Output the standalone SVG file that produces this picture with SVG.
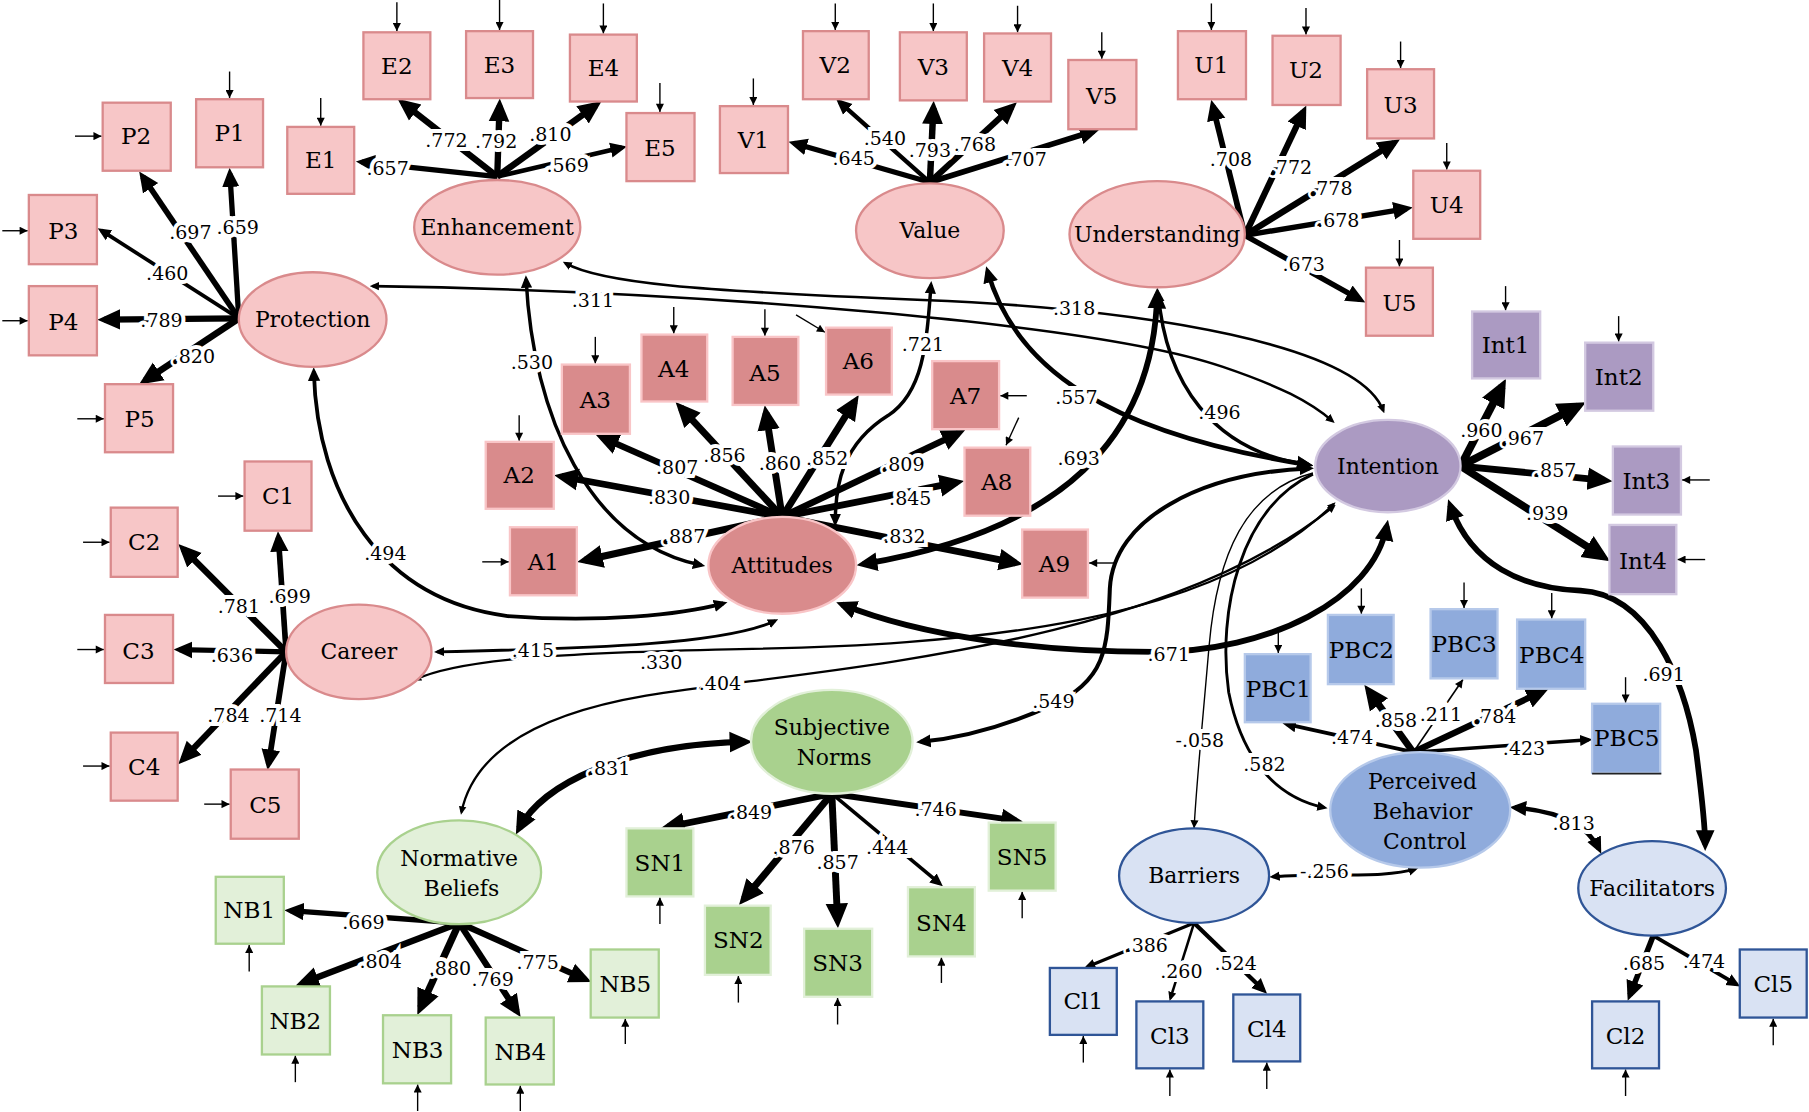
<svg xmlns="http://www.w3.org/2000/svg" width="1809" height="1112" viewBox="0 0 1809 1112">
<defs>
<marker id="ah" viewBox="0 0 10 10" refX="6.9" refY="5" markerWidth="3.6" markerHeight="3.6" orient="auto-start-reverse" markerUnits="strokeWidth"><path d="M0,0.5 L10,5 L0,9.5 z" fill="#000"/></marker>
<marker id="as" viewBox="0 0 10 10" refX="10" refY="5" markerWidth="8" markerHeight="7" orient="auto-start-reverse" markerUnits="userSpaceOnUse"><path d="M0,0 L10,5 L0,10 z" fill="#000"/></marker>
<style>
.pk{fill:#F7C6C7;stroke:#D98A8C;stroke-width:2}
.at{fill:#D98B8C;stroke:#F9C5C7;stroke-width:2}
.it{fill:#AB9AC2;stroke:#D3C9E1;stroke-width:2}
.pb{fill:#8FABDC;stroke:#B6C9EA;stroke-width:2}
.bl{fill:#D9E2F3;stroke:#2F5597;stroke-width:2}
.sn{fill:#A9D18E;stroke:#E2F0D9;stroke-width:2}
.nb{fill:#E2F0D9;stroke:#A9D18E;stroke-width:2}
.ld{fill:none;stroke:#000;marker-end:url(#ah)}
.db{fill:none;stroke:#000;marker-start:url(#ah);marker-end:url(#ah)}
.sg{fill:none;stroke:#000;marker-end:url(#ah)}
.th{fill:none;stroke:#000;marker-end:url(#as)}
.rs line{stroke:#000;stroke-width:1.2;marker-end:url(#as)}
text{font-family:'DejaVu Serif','Liberation Serif',serif;fill:#000;text-anchor:middle;dominant-baseline:central}
.n{font-size:19px}
.b{font-size:20px}
.l{font-size:16.5px;paint-order:stroke;stroke:#fff;stroke-width:7px;stroke-linejoin:miter}
</style>
</defs>
<rect width="1809" height="1112" fill="#fff"/>
<g transform="scale(1.1537)">
<g id="connectors">
<path class="db" stroke-width="2.2" d="M 323,248 C 600,252 950,280 1060,318 C 1110,335 1135,348 1155,365"/>
<path class="db" stroke-width="2.2" d="M 490,228 C 520,245 600,252 800,260 C 1000,268 1178,300 1199,356"/>
<path class="db" stroke-width="3" d="M 456,242 C 462,360 510,470 608,490"/>
<path class="db" stroke-width="3.3" d="M 272,322 C 275,430 330,520 440,534 C 520,540 590,533 627,523"/>
<path class="db" stroke-width="3" d="M 807,247 C 803,300 800,340 770,360 C 730,385 724,420 724,453"/>
<path class="db" stroke-width="4" d="M 856,235 C 880,320 960,375 1134,403"/>
<path class="db" stroke-width="5" d="M 1003,255 C 1000,380 920,460 748,489"/>
<path class="db" stroke-width="3" d="M 1004,254 C 1010,330 1050,392 1135,403"/>
<path class="db" stroke-width="2.5" d="M 379,565 C 520,562 630,558 672,538"/>
<path class="db" stroke-width="2" d="M 360,589 C 400,570 500,566 620,563 C 850,560 1050,540 1156,437"/>
<path class="db" stroke-width="2" d="M 400,704 C 410,655 460,620 560,603 C 700,580 1000,565 1156,439"/>
<path class="db" stroke-width="5" d="M 730,524 C 800,552 900,565 1000,565 C 1100,565 1190,520 1202,456"/>
<path class="db" stroke-width="3.5" d="M 1135,406 C 1040,410 965,450 962,510 C 960,560 960,590 910,612 C 870,630 830,640 798,643"/>
<path class="db" stroke-width="5.5" d="M 450,718 C 470,680 540,645 646,643"/>
<path class="th" stroke-width="1.2" d="M 1138,410 C 1080,425 1055,480 1048,560 C 1042,630 1037,680 1035,718"/>
<path class="sg" stroke-width="2.5" d="M 1138,411 C 1075,440 1055,530 1065,600 C 1075,650 1100,690 1148,700"/>
<path class="db" stroke-width="5" d="M 1257,438 C 1275,490 1320,510 1370,512 C 1430,515 1460,590 1470,650 C 1475,690 1478,712 1478,732"/>
<path class="db" stroke-width="4" d="M 1313,700 C 1350,703 1376,715 1386,736"/>
<path class="db" stroke-width="2.5" d="M 1103,760 C 1150,756 1200,762 1227,753"/>
<line class="ld" x1="431" y1="153" x2="313.6" y2="140.5" stroke-width="4.6"/>
<line class="ld" x1="431" y1="153" x2="349.3" y2="89.3" stroke-width="5.4"/>
<line class="ld" x1="431" y1="153" x2="433" y2="91.5" stroke-width="5.5"/>
<line class="ld" x1="431" y1="153" x2="516.4" y2="91.3" stroke-width="5.7"/>
<line class="ld" x1="431" y1="153" x2="539.1" y2="127.9" stroke-width="4"/>
<line class="ld" x1="207" y1="276" x2="199.3" y2="150.6" stroke-width="4.6"/>
<line class="ld" x1="207" y1="276" x2="123.7" y2="153.1" stroke-width="4.9"/>
<line class="ld" x1="207" y1="276" x2="87.7" y2="199.7" stroke-width="3.2"/>
<line class="ld" x1="207" y1="276" x2="90.5" y2="277" stroke-width="5.5"/>
<line class="ld" x1="207" y1="276" x2="125.8" y2="329.8" stroke-width="5.7"/>
<line class="ld" x1="806" y1="158" x2="688.3" y2="124.2" stroke-width="4.5"/>
<line class="ld" x1="806" y1="158" x2="727.8" y2="88.5" stroke-width="3.8"/>
<line class="ld" x1="806" y1="158" x2="809" y2="93.6" stroke-width="5.6"/>
<line class="ld" x1="806" y1="158" x2="877" y2="92.7" stroke-width="5.4"/>
<line class="ld" x1="806" y1="158" x2="948.3" y2="113.5" stroke-width="4.9"/>
<line class="ld" x1="1079" y1="204" x2="1051.2" y2="91.9" stroke-width="5"/>
<line class="ld" x1="1079" y1="204" x2="1129.7" y2="96.9" stroke-width="5.4"/>
<line class="ld" x1="1079" y1="204" x2="1208.4" y2="123.8" stroke-width="5.4"/>
<line class="ld" x1="1079" y1="204" x2="1219.4" y2="180.8" stroke-width="4.7"/>
<line class="ld" x1="1079" y1="204" x2="1178.9" y2="259.7" stroke-width="4.7"/>
<line class="ld" x1="1266" y1="404" x2="1301.9" y2="334.9" stroke-width="6.7"/>
<line class="ld" x1="1266" y1="404" x2="1367.9" y2="352.1" stroke-width="6.8"/>
<line class="ld" x1="1266" y1="404" x2="1391" y2="416.4" stroke-width="6"/>
<line class="ld" x1="1266" y1="404" x2="1389.4" y2="482.5" stroke-width="6.6"/>
<line class="ld" x1="678" y1="448" x2="507.1" y2="485.7" stroke-width="6.2"/>
<line class="ld" x1="678" y1="448" x2="486.7" y2="413" stroke-width="5.8"/>
<line class="ld" x1="678" y1="448" x2="522.1" y2="379.3" stroke-width="5.6"/>
<line class="ld" x1="678" y1="448" x2="590.1" y2="353.4" stroke-width="6"/>
<line class="ld" x1="678" y1="448" x2="663.9" y2="357.9" stroke-width="6"/>
<line class="ld" x1="678" y1="448" x2="740.8" y2="348.1" stroke-width="6"/>
<line class="ld" x1="678" y1="448" x2="830.9" y2="375.4" stroke-width="5.7"/>
<line class="ld" x1="678" y1="448" x2="829.2" y2="418.1" stroke-width="5.9"/>
<line class="ld" x1="678" y1="448" x2="880.3" y2="487.9" stroke-width="5.8"/>
<line class="ld" x1="248" y1="565" x2="241.3" y2="465.9" stroke-width="4.9"/>
<line class="ld" x1="248" y1="565" x2="158.9" y2="475.9" stroke-width="5.5"/>
<line class="ld" x1="248" y1="565" x2="155.5" y2="563.1" stroke-width="4.5"/>
<line class="ld" x1="248" y1="565" x2="158.8" y2="658" stroke-width="5.5"/>
<line class="ld" x1="248" y1="565" x2="232.8" y2="662.1" stroke-width="5"/>
<line class="ld" x1="721" y1="688" x2="578.8" y2="716.8" stroke-width="5.9"/>
<line class="ld" x1="721" y1="688" x2="644.9" y2="779.3" stroke-width="6.1"/>
<line class="ld" x1="721" y1="688" x2="726" y2="798" stroke-width="6"/>
<line class="ld" x1="721" y1="688" x2="814.6" y2="766" stroke-width="3.1"/>
<line class="ld" x1="721" y1="688" x2="880.9" y2="711.3" stroke-width="5.2"/>
<line class="ld" x1="398" y1="800" x2="251.7" y2="789.3" stroke-width="4.7"/>
<line class="ld" x1="398" y1="800" x2="262.2" y2="852" stroke-width="5.6"/>
<line class="ld" x1="398" y1="800" x2="364.6" y2="873.4" stroke-width="6.2"/>
<line class="ld" x1="398" y1="800" x2="448" y2="876.5" stroke-width="5.4"/>
<line class="ld" x1="398" y1="800" x2="507.1" y2="848.8" stroke-width="5.4"/>
<line class="ld" x1="1035" y1="800" x2="942.5" y2="838" stroke-width="2.7"/>
<line class="ld" x1="1035" y1="800" x2="1014.5" y2="865.3" stroke-width="2.2"/>
<line class="ld" x1="1035" y1="800" x2="1095.3" y2="858.4" stroke-width="3.7"/>
<line class="ld" x1="1225" y1="652" x2="1115.2" y2="627.7" stroke-width="3.3"/>
<line class="ld" x1="1225" y1="652" x2="1186.5" y2="598.9" stroke-width="6"/>
<line class="th" x1="1225" y1="652" x2="1268" y2="589" stroke-width="1.4"/>
<line class="ld" x1="1225" y1="652" x2="1337" y2="599.3" stroke-width="5.5"/>
<line class="ld" x1="1225" y1="652" x2="1377" y2="641.2" stroke-width="3"/>
<line class="ld" x1="1433" y1="811" x2="1412.8" y2="862.5" stroke-width="4.8"/>
<line class="ld" x1="1433" y1="811" x2="1505.2" y2="853.3" stroke-width="3.3"/>
<g class="rs">
<line x1="344" y1="2" x2="344" y2="27"/><line x1="433" y1="0" x2="433" y2="26"/><line x1="523" y1="3" x2="523" y2="29"/>
<line x1="278" y1="85" x2="278" y2="109"/><line x1="572" y1="72" x2="572" y2="97"/><line x1="199" y1="62" x2="199" y2="85"/>
<line x1="653" y1="68" x2="653" y2="91"/><line x1="724" y1="3" x2="724" y2="26"/><line x1="809" y1="3" x2="809" y2="27"/>
<line x1="882" y1="5" x2="882" y2="28"/><line x1="955" y1="28" x2="955" y2="51"/><line x1="1050" y1="3" x2="1050" y2="26"/>
<line x1="1132" y1="7" x2="1132" y2="30"/><line x1="1214" y1="36" x2="1214" y2="59"/><line x1="1254" y1="124" x2="1254" y2="147"/>
<line x1="1213" y1="208" x2="1213" y2="231"/><line x1="1305" y1="248" x2="1305" y2="269"/><line x1="1403" y1="274" x2="1403" y2="296"/>
<line x1="516" y1="292" x2="516" y2="315"/><line x1="584" y1="266" x2="584" y2="289"/><line x1="663" y1="268" x2="663" y2="291"/>
<line x1="450" y1="360" x2="450" y2="382"/><line x1="1108" y1="544" x2="1108" y2="566"/><line x1="1180" y1="510" x2="1180" y2="532"/>
<line x1="1269" y1="505" x2="1269" y2="527"/><line x1="1345" y1="514" x2="1345" y2="536"/><line x1="1409" y1="587" x2="1409" y2="609"/>
<line x1="65" y1="118" x2="88" y2="118"/><line x1="2" y1="200" x2="24" y2="200"/><line x1="2" y1="278" x2="24" y2="278"/>
<line x1="67" y1="363" x2="90" y2="363"/><line x1="189" y1="430" x2="211" y2="430"/><line x1="72" y1="470" x2="95" y2="470"/>
<line x1="67" y1="563" x2="90" y2="563"/><line x1="72" y1="664" x2="95" y2="664"/><line x1="177" y1="697" x2="199" y2="697"/>
<line x1="418" y1="487" x2="441" y2="487"/>
<line x1="890" y1="343" x2="867" y2="343"/><line x1="968" y1="488" x2="944" y2="488"/><line x1="1482" y1="416" x2="1458" y2="416"/>
<line x1="1478" y1="485" x2="1454" y2="485"/>
<line x1="690" y1="273" x2="715" y2="288"/><line x1="883" y1="362" x2="872" y2="386"/>
<line x1="216" y1="842" x2="216" y2="819"/><line x1="256" y1="938" x2="256" y2="915"/><line x1="362" y1="963" x2="362" y2="940"/>
<line x1="451" y1="963" x2="451" y2="941"/><line x1="542" y1="905" x2="542" y2="883"/><line x1="572" y1="801" x2="572" y2="778"/>
<line x1="640" y1="869" x2="640" y2="846"/><line x1="726" y1="888" x2="726" y2="865"/><line x1="816" y1="852" x2="816" y2="830"/>
<line x1="886" y1="796" x2="886" y2="773"/><line x1="939" y1="921" x2="939" y2="898"/><line x1="1014" y1="950" x2="1014" y2="927"/>
<line x1="1098" y1="944" x2="1098" y2="921"/><line x1="1409" y1="950" x2="1409" y2="927"/><line x1="1537" y1="906" x2="1537" y2="883"/>
</g>
</g>
<g id="nodes">
<g id="Enhancement"><ellipse class="pk" cx="431" cy="197" rx="72" ry="41"/><text class="n" x="431" y="197">Enhancement</text></g>
<g id="Protection"><ellipse class="pk" cx="271" cy="277" rx="64" ry="41"/><text class="n" x="271" y="277">Protection</text></g>
<g id="Value"><ellipse class="pk" cx="806" cy="200" rx="64" ry="41"/><text class="n" x="806" y="200">Value</text></g>
<g id="Understanding"><ellipse class="pk" cx="1003" cy="203" rx="76" ry="46"/><text class="n" x="1003" y="203">Understanding</text></g>
<g id="Intention"><ellipse class="it" cx="1203" cy="404" rx="63" ry="40"/><text class="n" x="1203" y="404">Intention</text></g>
<g id="Attitudes"><ellipse class="at" cx="678" cy="490" rx="64" ry="42"/><text class="n" x="678" y="490">Attitudes</text></g>
<g id="Career"><ellipse class="pk" cx="311" cy="565" rx="63" ry="41"/><text class="n" x="311" y="565">Career</text></g>
<g id="SubjectiveNorms"><ellipse class="sn" cx="721" cy="643" rx="70" ry="45"/><text class="n" x="721" y="631">Subjective</text><text class="n" x="723" y="657">Norms</text></g>
<g id="NormativeBeliefs"><ellipse class="nb" cx="398" cy="756" rx="71" ry="45"/><text class="n" x="398" y="744">Normative</text><text class="n" x="400" y="770">Beliefs</text></g>
<g id="Barriers"><ellipse class="bl" cx="1035" cy="759" rx="65" ry="41"/><text class="n" x="1035" y="759">Barriers</text></g>
<g id="PBC"><ellipse class="pb" cx="1231" cy="702" rx="78" ry="50"/><text class="n" x="1233" y="677">Perceived</text><text class="n" x="1233" y="703">Behavior</text><text class="n" x="1235" y="729">Control</text></g>
<g id="Facilitators"><ellipse class="bl" cx="1432" cy="770" rx="64" ry="41"/><text class="n" x="1432" y="770">Facilitators</text></g>
<g id="E1"><rect class="pk" x="249" y="110" width="58" height="58"/><text class="b" x="278" y="139">E1</text></g>
<g id="E2"><rect class="pk" x="315" y="28" width="58" height="58"/><text class="b" x="344" y="57">E2</text></g>
<g id="E3"><rect class="pk" x="404" y="27" width="58" height="58"/><text class="b" x="433" y="56">E3</text></g>
<g id="E4"><rect class="pk" x="494" y="30" width="58" height="58"/><text class="b" x="523" y="59">E4</text></g>
<g id="E5"><rect class="pk" x="543" y="98" width="59" height="59"/><text class="b" x="572" y="128">E5</text></g>
<g id="P1"><rect class="pk" x="170" y="86" width="58" height="59"/><text class="b" x="199" y="115">P1</text></g>
<g id="P2"><rect class="pk" x="89" y="89" width="59" height="59"/><text class="b" x="118" y="118">P2</text></g>
<g id="P3"><rect class="pk" x="25" y="169" width="59" height="60"/><text class="b" x="55" y="200">P3</text></g>
<g id="P4"><rect class="pk" x="25" y="248" width="59" height="60"/><text class="b" x="55" y="279">P4</text></g>
<g id="P5"><rect class="pk" x="91" y="333" width="59" height="59"/><text class="b" x="121" y="363">P5</text></g>
<g id="V1"><rect class="pk" x="624" y="92" width="59" height="58"/><text class="b" x="653" y="121">V1</text></g>
<g id="V2"><rect class="pk" x="696" y="27" width="57" height="59"/><text class="b" x="724" y="56">V2</text></g>
<g id="V3"><rect class="pk" x="780" y="28" width="58" height="59"/><text class="b" x="809" y="58">V3</text></g>
<g id="V4"><rect class="pk" x="853" y="29" width="58" height="59"/><text class="b" x="882" y="59">V4</text></g>
<g id="V5"><rect class="pk" x="926" y="52" width="59" height="60"/><text class="b" x="955" y="83">V5</text></g>
<g id="U1"><rect class="pk" x="1021" y="27" width="59" height="59"/><text class="b" x="1050" y="56">U1</text></g>
<g id="U2"><rect class="pk" x="1103" y="31" width="59" height="60"/><text class="b" x="1132" y="61">U2</text></g>
<g id="U3"><rect class="pk" x="1185" y="60" width="58" height="60"/><text class="b" x="1214" y="91">U3</text></g>
<g id="U4"><rect class="pk" x="1225" y="148" width="58" height="59"/><text class="b" x="1254" y="178">U4</text></g>
<g id="U5"><rect class="pk" x="1184" y="232" width="58" height="59"/><text class="b" x="1213" y="263">U5</text></g>
<g id="Int1"><rect class="it" x="1276" y="270" width="59" height="58"/><text class="b" x="1305" y="299">Int1</text></g>
<g id="Int2"><rect class="it" x="1374" y="297" width="59" height="59"/><text class="b" x="1403" y="327">Int2</text></g>
<g id="Int3"><rect class="it" x="1398" y="387" width="59" height="59"/><text class="b" x="1427" y="417">Int3</text></g>
<g id="Int4"><rect class="it" x="1395" y="455" width="58" height="60"/><text class="b" x="1424" y="486">Int4</text></g>
<g id="A1"><rect class="at" x="442" y="457" width="58" height="59"/><text class="b" x="471" y="487">A1</text></g>
<g id="A2"><rect class="at" x="421" y="383" width="59" height="58"/><text class="b" x="450" y="412">A2</text></g>
<g id="A3"><rect class="at" x="487" y="316" width="59" height="60"/><text class="b" x="516" y="347">A3</text></g>
<g id="A4"><rect class="at" x="556" y="290" width="57" height="58"/><text class="b" x="584" y="320">A4</text></g>
<g id="A5"><rect class="at" x="635" y="292" width="57" height="59"/><text class="b" x="663" y="323">A5</text></g>
<g id="A6"><rect class="at" x="716" y="284" width="57" height="58"/><text class="b" x="744" y="313">A6</text></g>
<g id="A7"><rect class="at" x="808" y="313" width="58" height="59"/><text class="b" x="837" y="343">A7</text></g>
<g id="A8"><rect class="at" x="836" y="388" width="57" height="59"/><text class="b" x="864" y="418">A8</text></g>
<g id="A9"><rect class="at" x="886" y="459" width="57" height="59"/><text class="b" x="914" y="489">A9</text></g>
<g id="C1"><rect class="pk" x="212" y="400" width="58" height="60"/><text class="b" x="241" y="430">C1</text></g>
<g id="C2"><rect class="pk" x="96" y="440" width="58" height="60"/><text class="b" x="125" y="470">C2</text></g>
<g id="C3"><rect class="pk" x="91" y="533" width="59" height="59"/><text class="b" x="120" y="564">C3</text></g>
<g id="C4"><rect class="pk" x="96" y="635" width="58" height="59"/><text class="b" x="125" y="665">C4</text></g>
<g id="C5"><rect class="pk" x="200" y="667" width="59" height="60"/><text class="b" x="230" y="698">C5</text></g>
<g id="SN1"><rect class="sn" x="543" y="718" width="58" height="59"/><text class="b" x="572" y="748">SN1</text></g>
<g id="SN2"><rect class="sn" x="611" y="785" width="57" height="60"/><text class="b" x="640" y="815">SN2</text></g>
<g id="SN3"><rect class="sn" x="697" y="805" width="59" height="59"/><text class="b" x="726" y="835">SN3</text></g>
<g id="SN4"><rect class="sn" x="787" y="769" width="58" height="60"/><text class="b" x="816" y="800">SN4</text></g>
<g id="SN5"><rect class="sn" x="857" y="713" width="58" height="59"/><text class="b" x="886" y="743">SN5</text></g>
<g id="NB1"><rect class="nb" x="187" y="760" width="59" height="58"/><text class="b" x="216" y="789">NB1</text></g>
<g id="NB2"><rect class="nb" x="227" y="855" width="59" height="59"/><text class="b" x="256" y="885">NB2</text></g>
<g id="NB3"><rect class="nb" x="332" y="880" width="59" height="59"/><text class="b" x="362" y="910">NB3</text></g>
<g id="NB4"><rect class="nb" x="421" y="882" width="59" height="58"/><text class="b" x="451" y="912">NB4</text></g>
<g id="NB5"><rect class="nb" x="512" y="823" width="59" height="59"/><text class="b" x="542" y="853">NB5</text></g>
<g id="Cl1"><rect class="bl" x="910" y="839" width="58" height="58"/><text class="b" x="939" y="868">Cl1</text></g>
<g id="Cl3"><rect class="bl" x="985" y="868" width="58" height="58"/><text class="b" x="1014" y="898">Cl3</text></g>
<g id="Cl4"><rect class="bl" x="1069" y="862" width="58" height="58"/><text class="b" x="1098" y="892">Cl4</text></g>
<g id="Cl2"><rect class="bl" x="1380" y="868" width="58" height="58"/><text class="b" x="1409" y="898">Cl2</text></g>
<g id="Cl5"><rect class="bl" x="1508" y="823" width="58" height="59"/><text class="b" x="1537" y="853">Cl5</text></g>
<g id="PBC1"><rect class="pb" x="1079" y="567" width="57" height="59"/><text class="b" x="1108" y="597">PBC1</text></g>
<g id="PBC2"><rect class="pb" x="1151" y="533" width="57" height="60"/><text class="b" x="1180" y="563">PBC2</text></g>
<g id="PBC3"><rect class="pb" x="1240" y="528" width="58" height="60"/><text class="b" x="1269" y="558">PBC3</text></g>
<g id="PBC4"><rect class="pb" x="1315" y="537" width="59" height="60"/><text class="b" x="1345" y="568">PBC4</text></g>
<g id="PBC5"><rect class="pb" x="1380" y="610" width="59" height="60"/><line x1="1380" y1="670.5" x2="1440" y2="670.5" stroke="#222" stroke-width="1.5"/><text class="b" x="1410" y="640">PBC5</text></g>
</g>
<g id="labels">
<text class="l" x="336" y="146">.657</text><text class="l" x="387" y="121">.772</text><text class="l" x="430" y="122">.792</text><text class="l" x="477" y="116">.810</text><text class="l" x="492" y="143">.569</text>
<text class="l" x="206" y="197">.659</text><text class="l" x="165" y="201">.697</text><text class="l" x="145" y="237">.460</text><text class="l" x="140" y="277">.789</text><text class="l" x="168" y="309">.820</text>
<text class="l" x="740" y="137">.645</text><text class="l" x="767" y="120">.540</text><text class="l" x="806" y="130">.793</text><text class="l" x="845" y="125">.768</text><text class="l" x="889" y="138">.707</text>
<text class="l" x="1067" y="138">.708</text><text class="l" x="1119" y="145">.772</text><text class="l" x="1154" y="163">.778</text><text class="l" x="1160" y="191">.678</text><text class="l" x="1130" y="229">.673</text>
<text class="l" x="1284" y="373">.960</text><text class="l" x="1320" y="380">.967</text><text class="l" x="1348" y="407">.857</text><text class="l" x="1341" y="445">.939</text>
<text class="l" x="593" y="465">.887</text><text class="l" x="580" y="431">.830</text><text class="l" x="587" y="405">.807</text><text class="l" x="628" y="394">.856</text><text class="l" x="676" y="401">.860</text><text class="l" x="717" y="397">.852</text><text class="l" x="783" y="402">.809</text><text class="l" x="789" y="432">.845</text><text class="l" x="784" y="465">.832</text>
<text class="l" x="251" y="517">.699</text><text class="l" x="207" y="525">.781</text><text class="l" x="201" y="568">.636</text><text class="l" x="198" y="620">.784</text><text class="l" x="243" y="620">.714</text>
<text class="l" x="651" y="704">.849</text><text class="l" x="688" y="734">.876</text><text class="l" x="726" y="747">.857</text><text class="l" x="769" y="734">.444</text><text class="l" x="811" y="701">.746</text>
<text class="l" x="315" y="799">.669</text><text class="l" x="330" y="833">.804</text><text class="l" x="390" y="839">.880</text><text class="l" x="427" y="849">.769</text><text class="l" x="466" y="834">.775</text>
<text class="l" x="994" y="819">.386</text><text class="l" x="1024" y="842">.260</text><text class="l" x="1071" y="835">.524</text>
<text class="l" x="1172" y="639">.474</text><text class="l" x="1210" y="624">.858</text><text class="l" x="1249" y="619">.211</text><text class="l" x="1296" y="621">.784</text><text class="l" x="1321" y="648">.423</text>
<text class="l" x="1425" y="835">.685</text><text class="l" x="1477" y="833">.474</text>
<text class="l" x="514" y="260">.311</text><text class="l" x="931" y="267">.318</text><text class="l" x="461" y="314">.530</text><text class="l" x="334" y="479">.494</text>
<text class="l" x="800" y="298">.721</text><text class="l" x="933" y="344">.557</text><text class="l" x="1057" y="357">.496</text><text class="l" x="935" y="397">.693</text>
<text class="l" x="462" y="563">.415</text><text class="l" x="573" y="574">.330</text><text class="l" x="624" y="592">.404</text><text class="l" x="1013" y="567">.671</text>
<text class="l" x="913" y="608">.549</text><text class="l" x="528" y="666">.831</text><text class="l" x="1040" y="641">-.058</text><text class="l" x="1096" y="662">.582</text>
<text class="l" x="1442" y="584">.691</text><text class="l" x="1364" y="713">.813</text><text class="l" x="1148" y="755">-.256</text>
</g>
</g>
</svg>
